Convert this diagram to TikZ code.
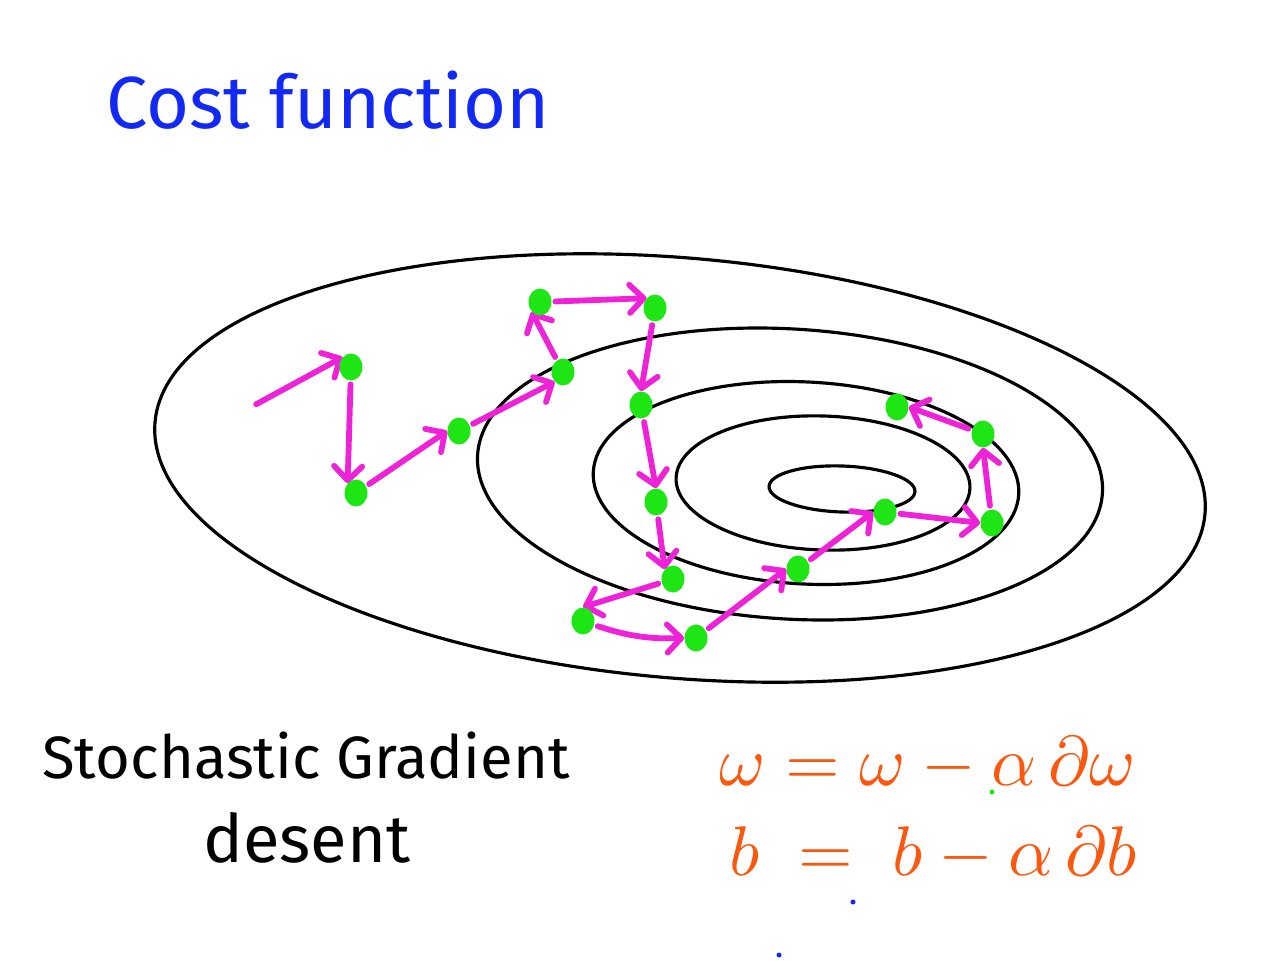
\documentclass[tikz,border=0pt]{standalone}
\usepackage{fontspec}
\setmainfont{Fira Sans}
\usetikzlibrary{arrows.meta,shapes.geometric,backgrounds}
\definecolor{costblue}{RGB}{18,40,245}
\definecolor{pathpink}{RGB}{238,34,214}
\definecolor{dotgreen}{RGB}{30,230,20}
\definecolor{ruleorange}{RGB}{250,88,14}
\tikzset{
  contour/.style={draw=black, line width=1.8pt},
  gdot/.style={ellipse, fill=dotgreen, minimum width=0.46cm, minimum height=0.54cm, inner sep=0pt},
  sgdstep/.style={-{Straight Barb[length=8pt,width=16pt,round]}, draw=pathpink, line width=3.3pt, line cap=round, shorten <=2pt},
  handtitle/.style={font=\fontsize{42}{50}\selectfont, text=costblue, inner sep=0pt},
  handlabel/.style={font=\fontsize{34}{42}\selectfont, inner sep=0pt},
  ruletext/.style={text=ruleorange, scale=4, inner sep=0pt}
}

\begin{document}
\begin{tikzpicture}[x=0.02cm, y=-0.02cm]
\useasboundingbox (0,0) rectangle (1280,960);

\node[handtitle, anchor=base west] (title) at (106,128) {Cost function};

% green steps of the descent
\foreach \px/\py [count=\i] in {351/367, 356/493, 459/431, 563/372, 540/302, 655/308,
    641/405, 656/502, 673/579, 583/621, 696/638, 798/569, 885/512, 992/523, 983/434, 897/407}
  \node[gdot] (d\i) at (\px,\py) {};
\coordinate (start) at (253,406);

\begin{scope}[on background layer]
% contour lines of the cost
\draw[contour, rotate around={-5:(680,468)}] (680,468) ellipse [x radius=527, y radius=210];
\draw[contour, rotate around={-3.5:(790,474)}] (790,474) ellipse [x radius=313, y radius=145];
\draw[contour, rotate around={-3:(806,483)}] (806,483) ellipse [x radius=213, y radius=101];
\draw[contour, rotate around={-2:(823,483)}] (823,483) ellipse [x radius=147, y radius=67];
\draw[contour, rotate around={-2:(842,489)}] (842,489) ellipse [x radius=73, y radius=23];

\draw[sgdstep] (start) -- (d1.north west);
\draw[sgdstep] (d1) -- (d2.north west);
\draw[sgdstep] (d2) -- (d3.west);
\draw[sgdstep] (d3) -- (d4.south west);
\draw[sgdstep] (d4) -- (d5.south west);
\draw[sgdstep] (d5) -- (d6.north west);
\draw[sgdstep] (d6) -- (d7.north);
\draw[sgdstep] (d7) -- (d8.north);
\draw[sgdstep] (d8) -- (d9.north west);
\draw[sgdstep] (d9) -- (d10.north);
\draw[sgdstep] (d10) to[bend right=10] (d11.west);
\draw[sgdstep] (d11) -- (d12.west);
\draw[sgdstep] (d12) -- (d13.west);
\draw[sgdstep] (d13) -- (d14.west);
\draw[sgdstep] (d14) -- (d15.south);
\draw[sgdstep] (d15) -- (d16.east);
\end{scope}

\node[handlabel, anchor=base] (sgd) at (306,778) {Stochastic Gradient};
\node[handlabel, anchor=base, font=\fontsize{38}{46}\selectfont] (sgdb) at (307,862) {desent};

\node[ruletext, anchor=base west] (rulew) at (718,785) {$\omega = \omega - \alpha\,\partial\omega$};
\node[ruletext, anchor=base west] (ruleb) at (728,875) {$b \;=\; b - \alpha\,\partial b$};

% stray pen marks
\fill[dotgreen] (992,792) circle [radius=2.5];
\fill[costblue] (853,902) circle [radius=2.5];
\fill[costblue] (779,955) circle [radius=2.5];
\end{tikzpicture}
\end{document}
